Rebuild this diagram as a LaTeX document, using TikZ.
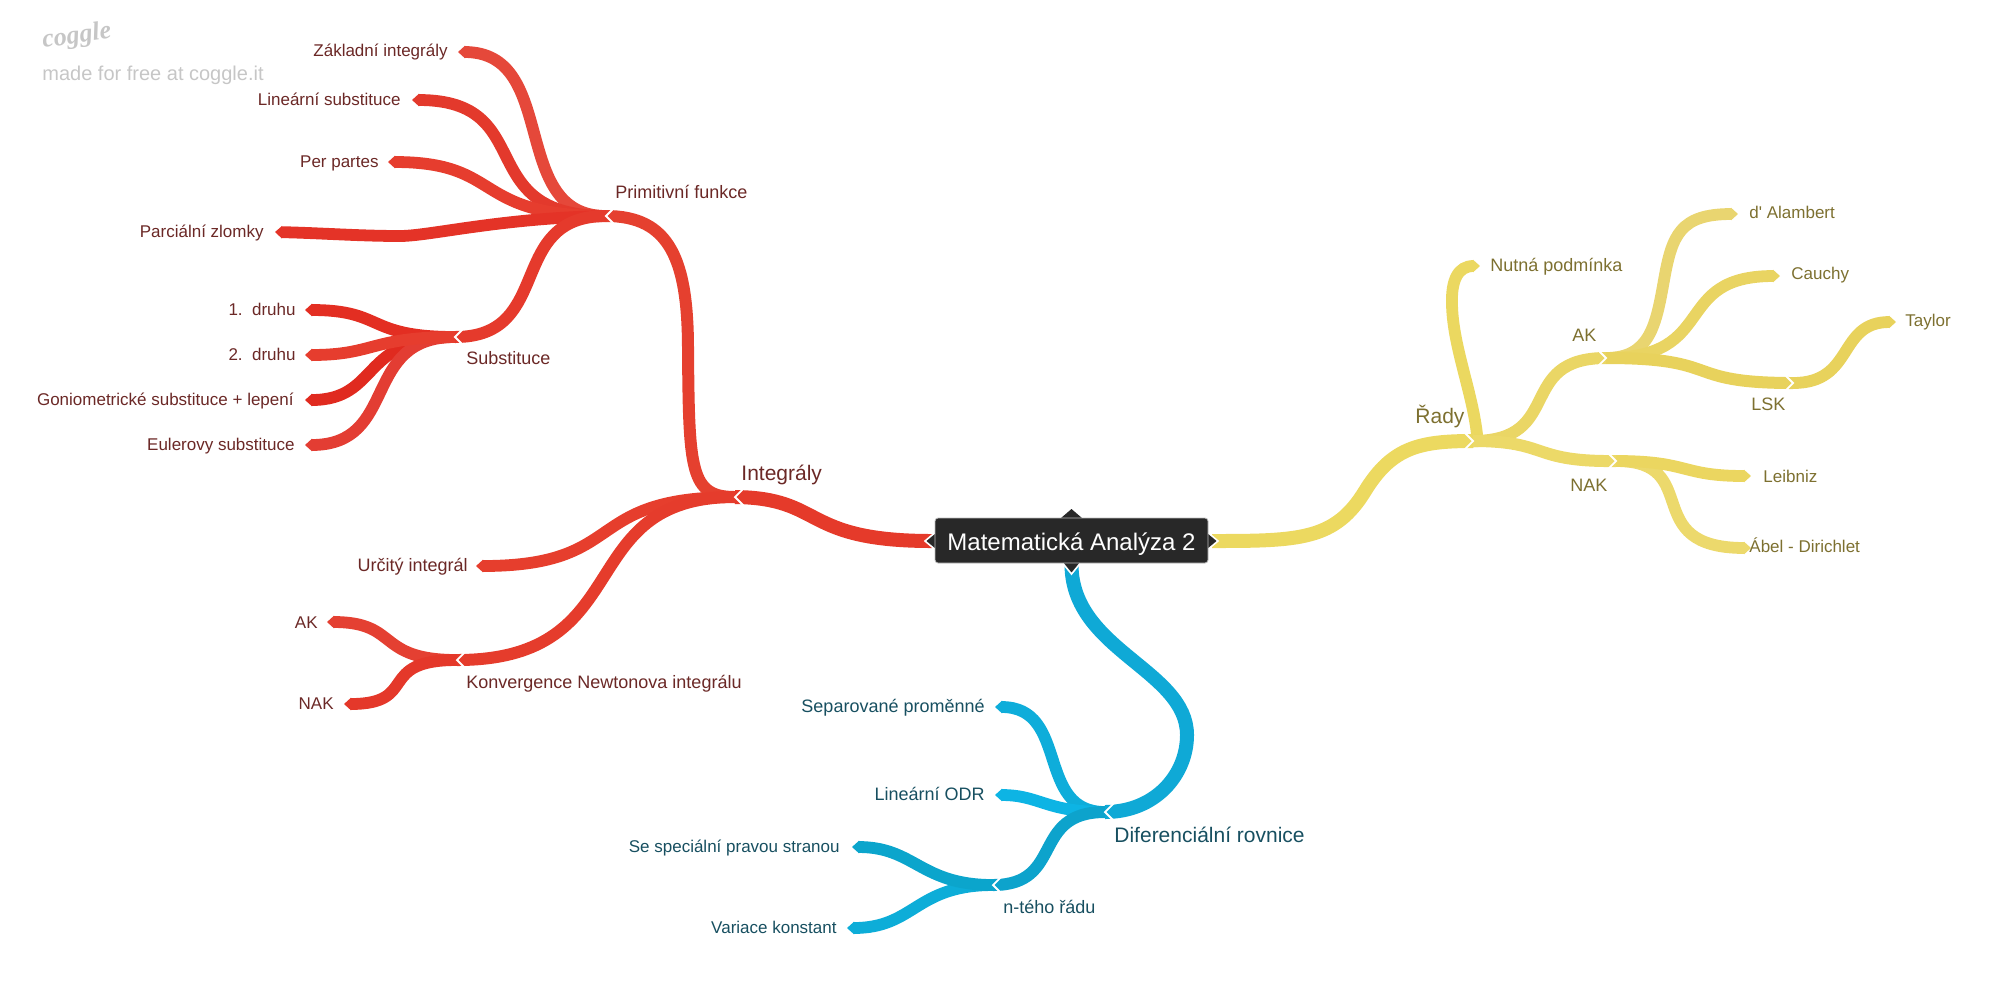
\documentclass[tikz,border=0pt]{standalone}
\usepackage{fontspec}
\setmainfont{Liberation Sans}
\newfontfamily\plainsans{Liberation Sans}
\newfontfamily\wmhand{Liberation Serif}
\usetikzlibrary{arrows.meta}
\definecolor{redtxt}{HTML}{6B2826}
\definecolor{yeltxt}{HTML}{7D7030}
\definecolor{blutxt}{HTML}{174F60}
\definecolor{rootdark}{HTML}{282828}
\definecolor{wm}{HTML}{C6C6C6}
\tikzset{
  x=0.5pt,y=-0.5pt,
  bond/.style={line width=#1,line cap=butt},
  bond/.default=5pt,
  leaf/.style={bond=5.9pt,-{Triangle[length=3.5pt,width=6.1pt]}},
  chev/.style={draw=white,line width=0.9pt,line join=miter},
  lab/.style={inner sep=0pt,yshift=-0.2pt,font=\fontsize{8.5}{10}\selectfont},
  sublab/.style={inner sep=0pt,yshift=-0.2pt,font=\fontsize{9}{11}\selectfont},
  biglab/.style={inner sep=0pt,yshift=-0.2pt,font=\fontsize{10.5}{12}\selectfont},
  tiptri/.style={fill=rootdark,draw=white,line width=0.8pt,line join=miter},
}
\newcommand{\chevL}[1]{\draw[chev] (#1) ++(9,-9) -- ++(-9,9) -- ++(9,9);}
\newcommand{\chevR}[1]{\draw[chev] (#1) ++(-9,-9) -- ++(9,9) -- ++(-9,9);}
\begin{document}
\begin{tikzpicture}
\useasboundingbox (0,0) rectangle (2000,987);
% ---------- coordinates
\coordinate (rootL) at (932,541);
\coordinate (rootR) at (1212,541);
\coordinate (rootB) at (1071.5,565);
\coordinate (int) at (735,497);
\coordinate (prim) at (606,216);
\coordinate (sub) at (455,337);
\coordinate (konv) at (457,660);
\coordinate (turcit) at (476,566);
\coordinate (tzakl) at (458,52);
\coordinate (tlin) at (412,100);
\coordinate (tper) at (388,162);
\coordinate (tparc) at (275,232);
\coordinate (tdr1) at (305,310);
\coordinate (tdr2) at (305,355);
\coordinate (tgon) at (305,400);
\coordinate (teul) at (305,445);
\coordinate (tak) at (327,622);
\coordinate (tnak) at (344,704);
\coordinate (rady) at (1473,441);
\coordinate (ryak) at (1606,358);
\coordinate (rynak) at (1616,461);
\coordinate (lsk) at (1793,383);
\coordinate (tnut) at (1480,266);
\coordinate (tdal) at (1738,214);
\coordinate (tcau) at (1780,276);
\coordinate (ttay) at (1896,322);
\coordinate (tlei) at (1751,476);
\coordinate (tabe) at (1751,548);
\coordinate (dif) at (1105,812);
\coordinate (nteh) at (993,885);
\coordinate (tsep) at (995,707);
\coordinate (tlodr) at (995,795);
\coordinate (tspe) at (852,847);
\coordinate (tvar) at (847,928);
% ---------- red
\draw[bond=7pt,draw={rgb,255:red,229;green,58;blue,42}] (rootL) .. controls (800,541) and (825,498) .. (int);
\draw[bond=6pt,draw={rgb,255:red,229;green,64;blue,47}] (int) .. controls (690,497) and (689,470) .. (688,350) .. controls (688,260) and (670,216) .. (prim);
\draw[leaf,draw={rgb,255:red,230;green,62;blue,45}] (int) .. controls (580,497) and (630,566) .. (turcit);
\draw[bond=6pt,draw={rgb,255:red,229;green,60;blue,44}] (int) .. controls (570,497) and (640,660) .. (konv);
\draw[leaf,draw={rgb,255:red,229;green,72;blue,58}] (prim) .. controls (508,216) and (560,52) .. (tzakl);
\draw[leaf,draw={rgb,255:red,227;green,57;blue,44}] (prim) .. controls (470,216) and (540,100) .. (tlin);
\draw[leaf,draw={rgb,255:red,230;green,61;blue,46}] (prim) .. controls (470,216) and (505,162) .. (tper);
\draw[leaf,draw={rgb,255:red,228;green,51;blue,39}] (prim) .. controls (500,218) and (430,236) .. (400,236) .. controls (360,236) and (320,233) .. (tparc);
\draw[bond=6pt,draw={rgb,255:red,229;green,58;blue,44}] (prim) .. controls (505,216) and (555,337) .. (sub);
\draw[leaf,draw={rgb,255:red,227;green,46;blue,34}] (sub) .. controls (365,337) and (385,310) .. (tdr1);
\draw[leaf,draw={rgb,255:red,224;green,42;blue,31}] (sub) .. controls (360,337) and (380,400) .. (tgon);
\draw[leaf,draw={rgb,255:red,227;green,61;blue,51}] (sub) .. controls (360,337) and (400,445) .. (teul);
\draw[leaf,draw={rgb,255:red,230;green,61;blue,46}] (sub) .. controls (370,337) and (375,355) .. (tdr2);
\draw[leaf,draw={rgb,255:red,228;green,64;blue,50}] (konv) .. controls (375,660) and (400,622) .. (tak);
\draw[leaf,draw={rgb,255:red,228;green,56;blue,42}] (konv) .. controls (375,660) and (420,704) .. (tnak);
% ---------- yellow
\draw[bond=7pt,draw={rgb,255:red,236;green,217;blue,96}] (rootR) .. controls (1300,541) and (1335,540) .. (1365,491) .. controls (1392,447) and (1420,441) .. (rady);
\coordinate (nutstart) at (1478,447);
\draw[leaf,draw={rgb,255:red,235;green,216;blue,96}] (nutstart) .. controls (1476,400) and (1453,350) .. (1452,305) .. controls (1451,280) and (1458,266) .. (tnut);
\draw[bond=6pt,draw={rgb,255:red,234;green,214;blue,101}] (rady) .. controls (1565,441) and (1515,358) .. (ryak);
\draw[bond=6pt,draw={rgb,255:red,236;green,217;blue,104}] (rady) .. controls (1550,441) and (1530,462) .. (rynak);
\draw[leaf,draw={rgb,255:red,233;green,213;blue,112}] (ryak) .. controls (1650,358) and (1656,325) .. (1664,280) .. controls (1672,235) and (1680,214) .. (tdal);
\draw[leaf,draw={rgb,255:red,233;green,212;blue,98}] (ryak) .. controls (1720,358) and (1670,276) .. (tcau);
\draw[bond=6pt,draw={rgb,255:red,232;green,210;blue,92}] (ryak) .. controls (1725,358) and (1680,383) .. (lsk);
\draw[leaf,draw={rgb,255:red,232;green,210;blue,92}] (lsk) .. controls (1855,383) and (1837,322) .. (ttay);
\draw[leaf,draw={rgb,255:red,236;green,217;blue,108}] (rynak) .. controls (1705,461) and (1637,548) .. (tabe);
\draw[leaf,draw={rgb,255:red,235;green,214;blue,96}] (rynak) .. controls (1690,461) and (1680,476) .. (tlei);
% ---------- blue
\draw[bond=7pt,draw={rgb,255:red,15;green,169;blue,214}] (rootB) .. controls (1072,650) and (1187,670) .. (1187,735) .. controls (1187,775) and (1155,812) .. (dif);
\draw[leaf,draw={rgb,255:red,14;green,173;blue,218}] (dif) .. controls (1035,812) and (1070,707) .. (tsep);
\draw[leaf,draw={rgb,255:red,13;green,180;blue,228}] (dif) .. controls (1045,812) and (1040,795) .. (tlodr);
\draw[bond=6pt,draw={rgb,255:red,13;green,163;blue,204}] (dif) .. controls (1030,812) and (1065,885) .. (nteh);
\draw[leaf,draw={rgb,255:red,13;green,173;blue,216}] (nteh) .. controls (915,885) and (915,928) .. (tvar);
\draw[leaf,draw={rgb,255:red,11;green,165;blue,204}] (nteh) .. controls (920,885) and (915,847) .. (tspe);
% ---------- chevrons
\chevL{int}\chevL{prim}\chevL{sub}\chevL{konv}\chevL{dif}\chevL{nteh}
\chevR{rady}\chevR{ryak}\chevR{rynak}\chevR{lsk}
% ---------- root node
\fill[rootdark] (1061,518) -- (1071.5,509) -- (1082,518) -- cycle;
\draw[tiptri] (937,531) -- (925,541) -- (937,551);
\draw[tiptri] (1206,531) -- (1218,541) -- (1206,551);
\draw[tiptri] (1061,561) -- (1071.5,574) -- (1082,561);
\node[draw={rgb,255:red,190;green,190;blue,190},fill=rootdark,line width=0.4pt,rounded corners=1.5pt,minimum width=136.5pt,minimum height=22.5pt,inner sep=0pt,text=white,font=\fontsize{12}{14}\selectfont,text height=11pt,text depth=1pt] (root) at (1071.5,540.5) {Matematická Analýza 2};
% ---------- labels
\node[lab,anchor=base east,text=redtxt] (lzakl) at (448,56) {Základní integrály};
\node[lab,anchor=base east,text=redtxt] (llin) at (401,105) {Lineární substituce};
\node[lab,anchor=base east,text=redtxt] (lper) at (379,167) {Per partes};
\node[lab,anchor=base east,text=redtxt] (lparc) at (264,237) {Parciální zlomky};
\node[lab,anchor=base east,text=redtxt] (ldr1) at (296,315) {1.\ \ druhu};
\node[lab,anchor=base east,text=redtxt] (ldr2) at (296,360) {2.\ \ druhu};
\node[lab,anchor=base east,text=redtxt] (lgon) at (294,405) {Goniometrické substituce + lepení};
\node[lab,anchor=base east,text=redtxt] (leul) at (295,450) {Eulerovy substituce};
\node[sublab,anchor=base west,text=redtxt] (lprim) at (615,198) {Primitivní funkce};
\node[sublab,anchor=base west,text=redtxt] (lsub) at (466,364) {Substituce};
\node[biglab,anchor=base west,text=redtxt] (lint) at (741,480) {Integrály};
\node[sublab,anchor=base east,text=redtxt] (lurc) at (468,571) {Určitý integrál};
\node[lab,anchor=base east,text=redtxt] (lak) at (318,628) {AK};
\node[lab,anchor=base east,text=redtxt] (lnak) at (334,709) {NAK};
\node[sublab,anchor=base west,text=redtxt] (lkonv) at (466,688) {Konvergence Newtonova integrálu};
\node[sublab,anchor=base east,text=blutxt] (lsep) at (985,712) {Separované proměnné};
\node[sublab,anchor=base east,text=blutxt] (llodr) at (985,800) {Lineární ODR};
\node[lab,anchor=base east,text=blutxt] (lspe) at (840,852) {Se speciální pravou stranou};
\node[lab,anchor=base east,text=blutxt] (lvar) at (837,933) {Variace konstant};
\node[sublab,anchor=base west,text=blutxt] (lnte) at (1003,913) {n-tého řádu};
\node[biglab,anchor=base west,text=blutxt] (ldif) at (1114,842) {Diferenciální rovnice};
\node[sublab,anchor=base west,text=yeltxt] (lnut) at (1490,271) {Nutná podmínka};
\node[lab,anchor=base west,text=yeltxt] (ldal) at (1749,218) {{\plainsans d' Alambert}};
\node[lab,anchor=base west,text=yeltxt] (lcau) at (1791,279) {Cauchy};
\node[lab,anchor=base west,text=yeltxt] (ltay) at (1905,326) {Taylor};
\node[sublab,anchor=base west,text=yeltxt] (lyak) at (1572,341) {AK};
\node[sublab,anchor=base west,text=yeltxt] (llsk) at (1751,410) {LSK};
\node[biglab,anchor=base west,text=yeltxt] (lrad) at (1415,423) {Řady};
\node[sublab,anchor=base west,text=yeltxt] (lynak) at (1570,491) {NAK};
\node[lab,anchor=base west,text=yeltxt] (llei) at (1763,482) {Leibniz};
\node[lab,anchor=base west,text=yeltxt] (labe) at (1749,552) {Ábel - Dirichlet};
% ---------- watermark
\node[inner sep=0pt,anchor=base west,text=wm,rotate=8,font=\wmhand\itshape\bfseries\fontsize{13}{15}\selectfont] (wm1) at (43,48) {coggle};
\node[inner sep=0pt,anchor=base west,text=wm,font=\fontsize{10}{12}\selectfont] (wm2) at (42,80) {made for free at coggle.it};
\end{tikzpicture}
\end{document}
